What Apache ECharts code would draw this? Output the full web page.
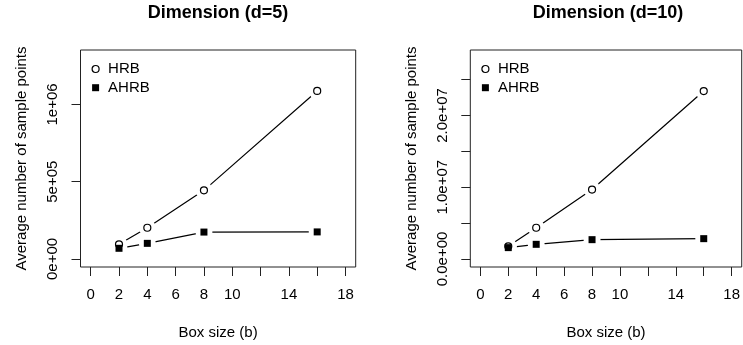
<!DOCTYPE html>
<html>
<head>
<meta charset="utf-8">
<script src="https://cdn.jsdelivr.net/npm/echarts@6/dist/echarts.min.js"></script>
<style>
html,body{margin:0;padding:0;background:#fff;}
#chart{width:743px;height:345px;}
</style>
</head>
<body>
<div id="chart"></div>
<script>
// ---- data ----
var boxSizes = [2, 4, 8, 16];
var hrbD5 = [95000, 202000, 444000, 1087000];
var ahrbD5 = [69000, 101000, 174000, 175000];
var hrbD10 = [1760000, 4350000, 9670000, 23400000];
var ahrbD10 = [1580000, 2040000, 2690000, 2830000];
var xTicks = [0, 2, 4, 6, 8, 10, 12, 14, 16, 18];
var xTickLabels = ['0', '2', '4', '6', '8', '10', '', '14', '', '18'];
var yTicksD5 = [0, 500000, 1000000];
var yTickLabelsD5 = ['0e+00', '5e+05', '1e+06'];
var yTicksD10 = [0, 5000000, 10000000, 15000000, 20000000, 25000000];
var yTickLabelsD10 = ['0.0e+00', '', '1.0e+07', '', '2.0e+07', ''];
var titles = ['Dimension (d=5)', 'Dimension (d=10)'];
var xName = 'Box size (b)';
var yName = 'Average number of sample points';

var FONT = '"Liberation Sans", Arial, Helvetica, sans-serif';
function pairs(xs, ys) { return xs.map(function (x, i) { return [x, ys[i]]; }); }
function lookup(vals, labels) {
  return function (v) {
    for (var i = 0; i < vals.length; i++) if (Math.abs(vals[i] - v) < 1e-6 * Math.max(1, Math.abs(v))) return labels[i];
    return '';
  };
}

var grids = [
  { left: 80.5, top: 50, width: 275.2, height: 218.3 },
  { left: 470.3, top: 50, width: 275.2, height: 218.3 }
];
var yLims = [[-52000, 1352000], [-1120000, 29120000]];
var yTickSets = [[yTicksD5, yTickLabelsD5], [yTicksD10, yTickLabelsD10]];
var panelData = [[hrbD5, ahrbD5], [hrbD10, ahrbD10]];

var option = {
  animation: false,
  backgroundColor: '#fff',
  title: [],
  legend: [],
  grid: [],
  xAxis: [],
  yAxis: [],
  series: []
};

for (var p = 0; p < 2; p++) {
  var g = grids[p];
  option.grid.push({
    left: g.left, top: g.top, width: g.width, height: g.height,
    show: true, borderColor: '#222', borderWidth: 1, backgroundColor: 'transparent'
  });
  option.title.push({
    text: titles[p],
    left: g.left + g.width / 2, top: 4, textAlign: 'center', padding: 0,
    textStyle: { fontFamily: FONT, fontWeight: 'bold', fontSize: 18, color: '#000' }
  });
  option.legend.push({
    orient: 'vertical', left: g.left + 11, top: 61.5, itemWidth: 7, itemHeight: 7, itemGap: 3.7,
    padding: 0, selectedMode: false,
    textStyle: { fontFamily: FONT, fontSize: 15, color: '#000', lineHeight: 15, padding: [0, 0, 0, 4] },
    data: [
      { name: 'HRB', icon: 'circle', itemStyle: { color: '#fff', borderColor: '#000', borderWidth: 1.2 } },
      { name: 'AHRB', icon: 'rect', itemStyle: { color: '#000', borderWidth: 0 } }
    ]
  });
  option.xAxis.push({
    type: 'value', gridIndex: p, min: -0.72, max: 18.72, position: 'bottom',
    name: xName, nameLocation: 'middle', nameGap: 58,
    nameTextStyle: { fontFamily: FONT, fontSize: 15, color: '#000' },
    axisLine: { show: false, onZero: false },
    splitLine: { show: false },
    axisTick: { show: true, inside: false, length: 9, customValues: xTicks, lineStyle: { color: '#222', width: 1 } },
    axisLabel: {
      show: true, margin: 20, customValues: xTicks, formatter: lookup(xTicks, xTickLabels),
      fontFamily: FONT, fontSize: 15, color: '#000', hideOverlap: false, showMinLabel: true, showMaxLabel: true
    }
  });
  option.yAxis.push({
    type: 'value', gridIndex: p, min: yLims[p][0], max: yLims[p][1], position: 'left',
    name: yName, nameLocation: 'middle', nameGap: 51, nameRotate: 90,
    nameTextStyle: { fontFamily: FONT, fontSize: 15, color: '#000' },
    axisLine: { show: false, onZero: false },
    splitLine: { show: false },
    axisTick: { show: true, inside: false, length: 9, customValues: yTickSets[p][0], lineStyle: { color: '#222', width: 1 } },
    axisLabel: {
      show: true, margin: 20, rotate: 90, customValues: yTickSets[p][0], formatter: lookup(yTickSets[p][0], yTickSets[p][1]),
      fontFamily: FONT, fontSize: 15, color: '#000', hideOverlap: false
    }
  });
  var hrb = pairs(boxSizes, panelData[p][0]);
  var ahrb = pairs(boxSizes, panelData[p][1]);
  // connecting lines
  [hrb, ahrb].forEach(function (d, k) {
    option.series.push({
      name: (k === 0 ? 'HRB' : 'AHRB') + ' line ' + p, type: 'line', xAxisIndex: p, yAxisIndex: p,
      data: d, showSymbol: false, symbol: 'none', z: 2, silent: true,
      lineStyle: { color: '#000', width: 1.2 }
    });
  });
  // white halos to produce the gaps around points
  option.series.push({
    name: 'halo ' + p, type: 'scatter', xAxisIndex: p, yAxisIndex: p,
    data: hrb.concat(ahrb), symbol: 'circle', symbolSize: 17, z: 3, silent: true,
    itemStyle: { color: '#fff', opacity: 1 }
  });
  option.series.push({
    name: 'HRB', type: 'scatter', xAxisIndex: p, yAxisIndex: p, data: hrb,
    symbol: 'circle', symbolSize: 7, z: 4, silent: true,
    itemStyle: { color: '#fff', borderColor: '#000', borderWidth: 1.2, opacity: 1 }
  });
  option.series.push({
    name: 'AHRB', type: 'scatter', xAxisIndex: p, yAxisIndex: p, data: ahrb,
    symbol: 'rect', symbolSize: 7, z: 5, silent: true,
    itemStyle: { color: '#000', opacity: 1 }
  });
}

var chart = echarts.init(document.getElementById('chart'), null, { renderer: 'canvas' });
chart.setOption(option);
</script>
</body>
</html>
